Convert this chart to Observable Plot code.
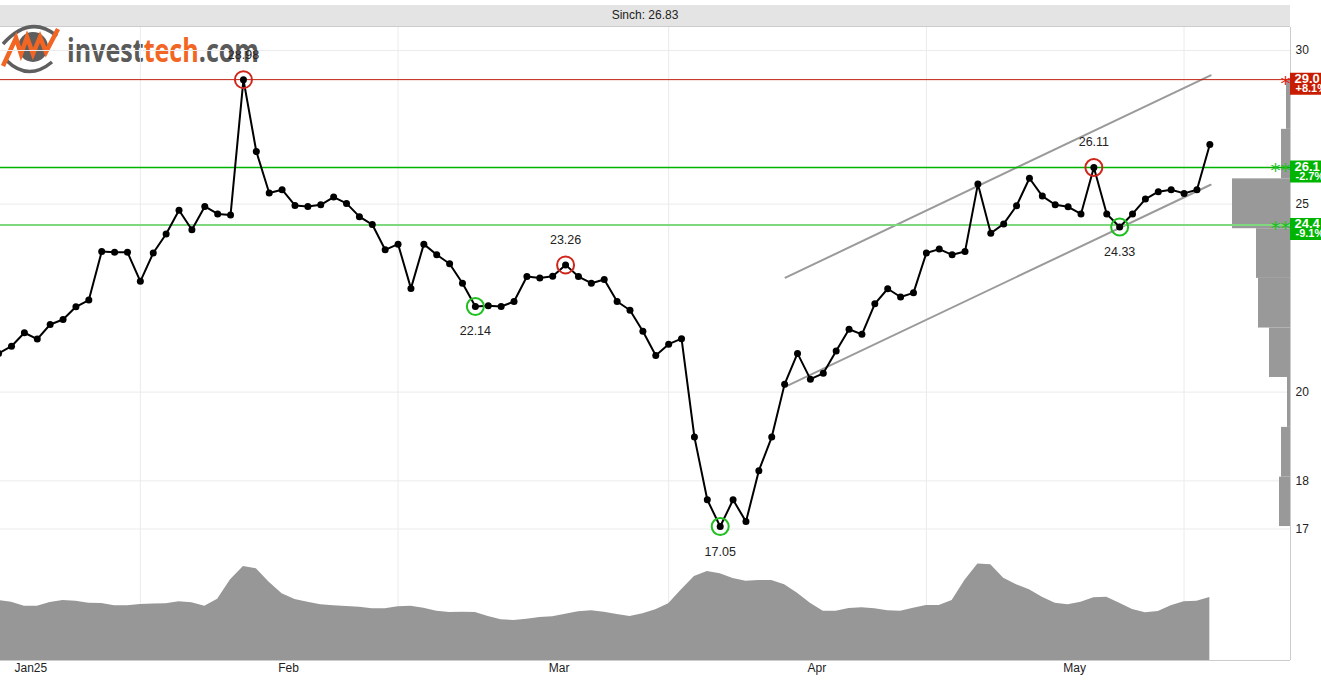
<!DOCTYPE html>
<html>
<head>
<meta charset="utf-8">
<script src="https://cdn.jsdelivr.net/npm/d3@7"></script>
<script src="https://cdn.jsdelivr.net/npm/@observablehq/plot@0.6"></script>
<style>
html, body { margin: 0; padding: 0; background: #fff; }
body { width: 1321px; height: 680px; position: relative; overflow: hidden; font-family: "Liberation Sans", Arial, sans-serif; }
#header { position: absolute; left: 0; top: 5px; width: 1290px; height: 21px; background: #e4e4e4; border-bottom: 1px solid #cccccc; font-size: 12px; color: #222; text-align: center; line-height: 20px; }
#logo { position: absolute; left: 0; top: 0; }
.layer { position: absolute; left: 0; top: 0; }
</style>
</head>
<body>
<div id="header">Sinch: 26.83</div>
<svg id="logo" width="280" height="80" viewBox="0 0 280 80">
  <path d="M3,44 Q30,14 57,36" fill="none" stroke="#5f5f5f" stroke-width="3.5"/>
  <path d="M6,60 Q28,82 52,62" fill="none" stroke="#5f5f5f" stroke-width="3.5"/>
  <circle cx="33" cy="47" r="15" fill="#5e5e5e"/>
  <polyline points="3,66 16,38 21,54 27,37 33,54 40,37 46,52 58,29" fill="none" stroke="#f26522" stroke-width="4.5" stroke-linejoin="miter"/>
  <text x="67" y="62" font-family="'Open Sans', 'DejaVu Sans', sans-serif" font-weight="700" font-size="32" textLength="192" lengthAdjust="spacingAndGlyphs"><tspan fill="#5a5a5a">invest</tspan><tspan fill="#f26522">tech</tspan><tspan fill="#5a5a5a">.com</tspan></text>
</svg>
<script>
// ---------- data ----------
const closes = [
  20.94, 21.12, 21.46, 21.30, 21.67, 21.80, 22.13, 22.31, 23.63, 23.61,
  23.61, 22.81, 23.59, 24.13, 24.82, 24.25, 24.93, 24.71, 24.68, 28.98,
  26.61, 25.33, 25.43, 24.96, 24.93, 24.98, 25.21, 25.02, 24.63, 24.40,
  23.68, 23.84, 22.62, 23.84, 23.54, 23.29, 22.76, 22.14, 22.16, 22.14,
  22.27, 22.94, 22.90, 22.95, 23.26, 22.94, 22.76, 22.86, 22.27, 22.04,
  21.50, 20.89, 21.17, 21.31, 18.96, 17.60, 17.05, 17.60, 17.15, 18.22,
  18.96, 20.19, 20.94, 20.31, 20.45, 21.00, 21.55, 21.42, 22.21, 22.61,
  22.39, 22.50, 23.59, 23.70, 23.54, 23.63, 25.60, 24.15, 24.42, 24.95,
  25.78, 25.24, 24.98, 24.92, 24.71, 26.11, 24.71, 24.33, 24.71, 25.15,
  25.37, 25.43, 25.32, 25.43, 26.83
];
const volumes = [
  60, 58.3, 54.3, 54.3, 58, 60, 59.3, 57.3, 57, 54.7,
  54.7, 56, 56.4, 56.7, 58.7, 57.7, 54.3, 61.3, 80.7, 94,
  91.7, 78.3, 66.7, 61, 58.3, 55.7, 54.7, 54, 53.3, 51.7,
  51.7, 53.7, 54.3, 52.3, 49.3, 48, 48.3, 48, 44, 40.7,
  40, 41.3, 43, 43.7, 46.3, 48.7, 49.7, 48.3, 46, 44,
  46.7, 50.7, 56.7, 70.7, 84, 89, 86.7, 82, 79.3, 80,
  80, 75.7, 67.3, 57.3, 49.3, 49.3, 52, 52.7, 51.7, 49.7,
  49.3, 52.3, 55, 55, 60, 80.2, 96.4, 95.7, 82.3, 75.7,
  70.7, 63.3, 57.3, 55.7, 58.3, 62.7, 63.3, 57.3, 51, 47.7,
  49, 54.7, 58.7, 59.3, 63
];
const highIdx = [19, 44, 85];
const lowIdx = [37, 56, 87];
const monthTickPos = [2.5, 22.5, 43.5, 63.5, 83.5];
const monthLabels = ["Jan25", "Feb", "Mar", "Apr", "May"];
const gridPos = [11, 31, 52, 72, 92];
const priceTicks = [17, 18, 20, 25, 30];
const levelValues = [28.98, 26.11, 24.39];
const levelKinds = ["resistance", "support", "support"];
const levelStrength = ["*", "**", "**"];
const levelLabels = ["29.0", "26.1", "24.4"];
const levelPct = ["+8.1%", "-2.7%", "-9.1%"];
const channelUpper = [[61.07, 22.91], [94.06, 29.13]];
const channelLower = [[61.07, 20.13], [94.06, 25.58]];
const profileEdges = [17.05, 18.08, 19.18, 20.35, 21.58, 22.89, 24.28, 25.76, 27.32, 28.98];
const profileVolumes = [11, 9, 3, 21, 32, 34, 58, 9, 4];

// ---------- tables ----------
const series = closes.map((v, i) => ({i, v, vol: volumes[i]}));
const levels = levelValues.map((v, k) => ({v, kind: levelKinds[k], star: levelStrength[k], label: levelLabels[k], pct: levelPct[k]}));
const bins = profileVolumes.map((vol, k) => ({lo: profileEdges[k], hi: profileEdges[k + 1], vol}));
const pivots = [
  ...highIdx.map(i => ({i, v: closes[i], type: "high"})),
  ...lowIdx.map(i => ({i, v: closes[i], type: "low"}))
];

// ---------- layout ----------
const W = 1321, H = 680;
const xDomain = [0.146, 100.26];
const yDomain = [16.77, 30.83];
const font = {fontFamily: "'Liberation Sans', Arial, sans-serif", fontSize: "12px", color: "#222", background: "transparent", overflow: "visible"};
const RED = "#d0261a", REDLINE = "#c0200e", GREEN = "#1fbf1f", GREENLINE = "#00b400", LIGHTGREEN = "#7fd87f";
const levelColor = l => l.kind === "resistance" ? REDLINE : (l.v > 25 ? GREENLINE : LIGHTGREEN);
const boxColor = l => l.kind === "resistance" ? "#c81c00" : "#00b400";

const priceFrame = {width: W, height: H, marginTop: 27, marginBottom: 140, marginLeft: 0, marginRight: 31,
  x: {domain: xDomain, axis: null}, y: {type: "log", domain: yDomain, axis: null}, style: font};

function place(svg) { svg.classList.add("layer"); document.body.appendChild(svg); }

// base grid for price panel
place(Plot.plot({...priceFrame, marks: [
  Plot.ruleY(priceTicks, {stroke: "#ebebeb"}),
  Plot.ruleX(gridPos, {stroke: "#ebebeb"})
]}));

// volume panel
place(Plot.plot({width: W, height: H, marginTop: 540, marginBottom: 20, marginLeft: 0, marginRight: 31,
  x: {domain: xDomain, axis: null}, y: {domain: [0, 120], axis: null}, style: font,
  marks: [
    Plot.ruleX(gridPos, {stroke: "#ebebeb"}),
    Plot.areaY(series, {x: "i", y: "vol", fill: "#979797"}),
    Plot.ruleX([xDomain[1]], {stroke: "#cccccc"}),
    Plot.ruleY([0], {stroke: "#cccccc"}),
    Plot.axisX(monthTickPos, {anchor: "bottom", tickSize: 0, tickPadding: 3, fontSize: 12, label: null,
      tickFormat: d => monthLabels[monthTickPos.indexOf(d)]})
  ]}));

// volume-at-price profile
place(Plot.plot({width: W, height: H, marginTop: 27, marginBottom: 140, marginLeft: 1180, marginRight: 31,
  x: {domain: [0, 110], reverse: true, axis: null}, y: {type: "log", domain: yDomain, axis: null}, style: font,
  marks: [
    Plot.rect(bins, {x1: () => 0, x2: "vol", y1: "lo", y2: "hi", fill: "#999999"})
  ]}));

// price panel
place(Plot.plot({...priceFrame, marks: [
  Plot.ruleX([xDomain[1]], {stroke: "#cccccc"}),
  Plot.line(channelUpper, {x: d => d[0], y: d => d[1], stroke: "#9a9a9a", strokeWidth: 2}),
  Plot.line(channelLower, {x: d => d[0], y: d => d[1], stroke: "#9a9a9a", strokeWidth: 2}),
  Plot.ruleY(levels, {y: "v", stroke: levelColor, strokeWidth: l => l.kind === "resistance" ? 1 : (l.v > 25 ? 1.5 : 2)}),
  Plot.line(series, {x: "i", y: "v", stroke: "#000", strokeWidth: 2}),
  Plot.dot(series, {x: "i", y: "v", r: 3.5, fill: "#000"}),
  Plot.dot(pivots, {x: "i", y: "v", r: 8.5, fill: "none", strokeWidth: 2, stroke: d => d.type === "high" ? RED : GREEN}),
  Plot.text(pivots.filter(d => d.type === "high"), {x: "i", y: "v", text: d => d.v.toFixed(2), dy: -25, fontSize: 12.5, fill: "#222"}),
  Plot.text(pivots.filter(d => d.type === "low"), {x: "i", y: "v", text: d => d.v.toFixed(2), dy: 25, fontSize: 12.5, fill: "#222"}),
  Plot.text(levels, {frameAnchor: "right", y: "v", text: "star", textAnchor: "end", lineAnchor: "bottom", dy: 10, dx: 0,
    fontSize: 20, fontFamily: "'DejaVu Sans', sans-serif",
    fill: d => d.kind === "resistance" ? "#e02010" : "#22c022"}),
  Plot.ruleY(levels, {y: "v", x1: () => xDomain[1], x2: () => xDomain[1] + 4, stroke: boxColor, strokeWidth: 22, dy: 4}),
  Plot.text(levels, {frameAnchor: "right", y: "v", text: "label", textAnchor: "start", dx: 4, dy: -1, fontSize: 13, fontWeight: "bold", fill: "#fff"}),
  Plot.text(levels, {frameAnchor: "right", y: "v", text: "pct", textAnchor: "start", dx: 5, dy: 9, fontSize: 11, fontWeight: "bold", fill: "#fff"}),
  Plot.axisY(priceTicks, {anchor: "right", tickSize: 0, tickPadding: 5, fontSize: 12, label: null, tickFormat: d => String(d)})
]}));
</script>
</body>
</html>
